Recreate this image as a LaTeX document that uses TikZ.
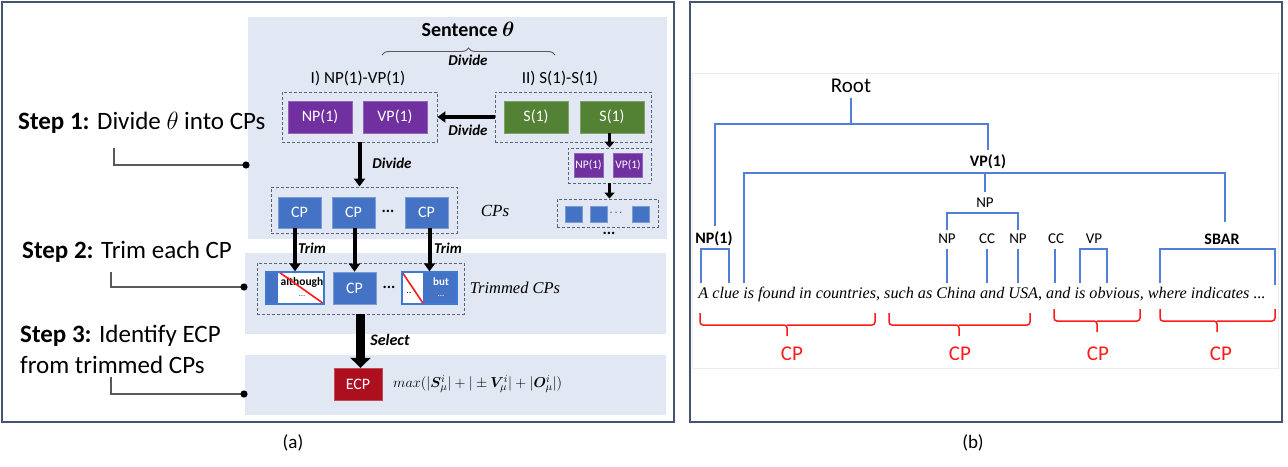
\documentclass[tikz,border=0pt]{standalone}
\usepackage{amsmath,bm}
\usepackage{fontspec}
\setmainfont{Carlito}
\newfontfamily\tnr{Liberation Serif}
\usetikzlibrary{arrows.meta,calc,decorations.pathreplacing}
\definecolor{panelC}{HTML}{E2E8F3}
\definecolor{purpC}{HTML}{7030A0}
\definecolor{greenC}{HTML}{548235}
\definecolor{cpC}{HTML}{4472C4}
\definecolor{ecpC}{HTML}{AD0F1F}
\definecolor{frameC}{HTML}{44546A}
\definecolor{dashC}{HTML}{56657D}
\definecolor{connC}{HTML}{595959}
\definecolor{treeC}{HTML}{4F7FD6}
\definecolor{tbC}{HTML}{3A7BD5}
\definecolor{redC}{HTML}{FF1A1A}
\newcommand{\fsz}[1]{\fontsize{#1}{#1}\selectfont}
\begin{document}
\begin{tikzpicture}[x=1pt,y=-1pt,
  box/.style={minimum width=43pt,minimum height=31pt,inner sep=0pt,text=white,font=\fsz{16}},
  purp/.style={box,fill=purpC,draw=purpC!75!white,line width=0.6pt},
  grn/.style={box,fill=greenC,draw=greenC!75!white,line width=0.6pt},
  cpbox/.style={box,fill=cpC,draw=cpC!70!white,line width=0.6pt},
  sq/.style={fill=cpC,draw=cpC!70!white,line width=0.5pt,minimum width=17pt,minimum height=16pt,inner sep=0pt},
  dbox/.style={draw=dashC,dash pattern=on 3pt off 2pt,line width=0.9pt,inner sep=0pt},
  arr/.style={line width=4pt,-{Triangle[width=11pt,length=8pt]}},
  lbl/.style={font=\fsz{15}\bfseries\itshape,inner sep=0pt},
  conn/.style={draw=connC,line width=1.2pt},
  step/.style={},
  steplbl/.style={anchor=west,font=\fsz{25},inner sep=0pt},
  tree/.style={draw=treeC,line width=1.5pt},
  tlab/.style={font=\fsz{15},inner sep=0pt},
  tlabb/.style={font=\fsz{16}\bfseries,inner sep=0pt},
  rb/.style={draw=redC,line width=1.5pt,rounded corners=3pt},
  cplab/.style={font=\fsz{21},text=redC,inner sep=0pt},
  tb/.style={draw=tbC,line width=1.4pt,minimum height=32pt,inner sep=0pt}
]
\useasboundingbox (0,0) rectangle (1288,466);
% ---------- panel (a)
\fill[panelC] (248,17) rectangle (667,239);
\fill[panelC] (245,253) rectangle (666,334);
\fill[panelC] (245,355) rectangle (666,415);
\draw[frameC,line width=2pt] (2,2) rectangle (674,422);

\node[font=\fsz{20}\bfseries,inner sep=0pt] (sent) at (468,29) {Sentence $\bm{\theta}$};
\draw[connC,line width=0.9pt,decorate,decoration={brace,amplitude=7pt}] (382,55) -- (555,55);
\node[lbl] (dv0) at (468,60) {Divide};
\node[font=\fsz{17},inner sep=0pt] (h1) at (358,78) {I) NP(1)-VP(1)};
\node[font=\fsz{17},inner sep=0pt] (h2) at (560,78) {II) S(1)-S(1)};

\node[dbox,minimum width=155pt,minimum height=50pt] (g1) at (359.5,117) {};
\node[purp,minimum width=64pt,minimum height=32pt] (np1) at (320,117) {NP(1)};
\node[purp,minimum width=64pt,minimum height=32pt] (vp1) at (395,117) {VP(1)};
\node[dbox,minimum width=156pt,minimum height=50pt] (g2) at (573,117) {};
\node[grn,minimum width=64pt,minimum height=32pt] (s1) at (536,117) {S(1)};
\node[grn,minimum width=64pt,minimum height=32pt] (s2) at (612,117) {S(1)};
\draw[arr] (g2.west) -- (g1.east);
\node[lbl] (dv1) at (468,130) {Divide};

\node[dbox,minimum width=83pt,minimum height=35pt] (g3) at (609.5,165.5) {};
\node[purp,minimum width=29pt,minimum height=24pt,font=\fsz{11.5}] (snp) at (588.5,165) {NP(1)};
\node[purp,minimum width=29pt,minimum height=24pt,font=\fsz{11.5}] (svp) at (628,165) {VP(1)};
\node[dbox,minimum width=101pt,minimum height=28pt] (g4) at (607.5,213) {};
\node[sq] (q1) at (573.5,214) {};
\node[sq] (q2) at (599,214) {};
\node[font=\fsz{11},inner sep=0pt] (qd) at (617,213) {\textbf{$\cdots$}};
\node[sq] (q3) at (641,214) {};
\node[font=\fsz{16}\bfseries,inner sep=0pt] (qdd) at (609,233) {...};
\draw[line width=3.5pt,-{Triangle[width=10pt,length=6pt]}] (s2.south -| g3.north) -- (g3.north);
\draw[line width=3.5pt,-{Triangle[width=10pt,length=6pt]}] (g3.south) -- (g3.south |- g4.north);

\node[dbox,minimum width=186pt,minimum height=46pt] (gcp) at (364,210) {};
\node[cpbox] (cp1) at (299.5,212.5) {CP};
\node[cpbox] (cp2) at (353.5,212.5) {CP};
\node[cpbox] (cp3) at (426.5,212.5) {CP};
\node[font=\fsz{16}\bfseries,inner sep=0pt] (cdots) at (388,211) {...};
\node[font=\fsz{17}\tnr\itshape,inner sep=0pt] (cps) at (495,211) {CPs};
\draw[arr] (g1.south) -- (g1.south |- gcp.north);
\node[lbl] (dv2) at (392,163) {Divide};

% trimmed
\node[dbox,minimum width=207pt,minimum height=51pt] (gtr) at (360.5,288.5) {};
\node[tb,fill=white,minimum width=58pt] (t1) at (295,288) {};
\fill[cpC] (t1.north west) rectangle ($(t1.south west)+(13,0)$);
\node[font=\fsz{11.5}\bfseries,inner sep=0pt] (t1a) at (302,282) {although};
\node[font=\fsz{9},text=connC,inner sep=0pt] (t1b) at (302,296) {...};
\draw[redC,line width=1.6pt] ($(t1.north west)+(14,1)$) -- ($(t1.south east)+(-1,-1)$);
\node[tb,minimum width=58pt] (t1f) at (295,288) {};
\node[cpbox,minimum height=32pt] (t2) at (354.5,288) {CP};
\node[font=\fsz{16}\bfseries,inner sep=0pt] (tdots) at (389,287) {...};
\node[tb,fill=cpC,minimum width=55pt] (t3) at (429.5,288) {};
\fill[white] (t3.north west) rectangle ($(t3.south west)+(22,0)$);
\node[font=\fsz{11}\bfseries,text=white,inner sep=0pt] (t3a) at (441,282) {but};
\node[font=\fsz{9},text=white,inner sep=0pt] (t3b) at (441,296) {...};
\node[font=\fsz{9},inner sep=0pt] (t3c) at (409,293) {..};
\draw[redC,line width=1.6pt] ($(t3.north west)+(1,1)$) -- ($(t3.south west)+(22,-1)$);
\node[tb,minimum width=55pt] (t3f) at (429.5,288) {};
\node[font=\fsz{16.5}\tnr\itshape,inner sep=0pt] (tcps) at (515,288) {Trimmed CPs};
\draw[arr] (t1.north |- cp1.south) -- (t1.north);
\draw[arr] (t2.north |- cp2.south) -- (t2.north);
\draw[arr] (t3.north |- cp3.south) -- (t3.north);
\node[lbl] (tr1) at (312,248) {Trim};
\node[lbl] (tr2) at (448,248) {Trim};

\node[box,fill=ecpC,draw=ecpC!75!white,minimum width=48pt,minimum height=32pt] (ecp) at (358,384) {ECP};
\draw[line width=9pt,-{Triangle[width=20pt,length=10pt]}] (gtr.south) -- (gtr.south |- ecp.north);
\node[lbl,font=\fsz{16}\bfseries\itshape] (sel) at (390,340) {Select};
\node[font=\fsz{15.5},inner sep=0pt,anchor=west] (form) at (393,384) {$max(|\bm{S}^i_\mu|+|\pm\bm{V}^i_\mu|+|\bm{O}^i_\mu|)$};

% steps
\node[steplbl] (st1) at (18,123) {\textbf{Step 1:} Divide $\theta$ into CPs};
\node[steplbl] (st2) at (22,252) {\textbf{Step 2:} Trim each CP};
\node[steplbl] (st3) at (20,336) {\textbf{Step 3:} Identify ECP};
\node[steplbl] (st3b) at (20,365) {from trimmed CPs};
\coordinate (c1) at (114,148); \coordinate (d1) at (246,165);
\coordinate (c2) at (111,272); \coordinate (d2) at (244,287);
\coordinate (c3) at (111,377); \coordinate (d3) at (244,394);
\draw[conn] (c1) |- (d1); \fill (d1) circle (3.6);
\draw[conn] (c2) |- (d2); \fill (d2) circle (3.6);
\draw[conn] (c3) |- (d3); \fill (d3) circle (3.6);
\node[font=\fsz{19},inner sep=0pt] (la) at (293,443) {(a)};

% ---------- panel (b)
\draw[gray!15,line width=0.8pt] (692,73) rectangle (1278,368);
\draw[frameC,line width=2pt] (690,2) rectangle (1282,422);
\node[font=\fsz{21},inner sep=0pt] (root) at (851,86) {Root};
\node[tlabb] (bvp1) at (988,162) {VP(1)};
\node[tlab] (bnp) at (985,203) {NP};
\node[tlabb] (bnp1) at (714,239) {NP(1)};
\node[tlab] (bnpa) at (947,239) {NP};
\node[tlab] (bcca) at (987,239) {CC};
\node[tlab] (bnpb) at (1018,239) {NP};
\node[tlab] (bccb) at (1056,239) {CC};
\node[tlab] (bvp) at (1094,239) {VP};
\node[tlabb] (bsbar) at (1222,239) {SBAR};
\node[font=\fsz{16.2}\tnr\itshape,inner sep=0pt] (sentb) at (982,295) {A clue is found in countries, such as China and USA, and is obvious, where indicates ...};

\draw[tree] (851,98) -- (851,124);
\draw[tree] (715,226) |- (988,124) -- (988,150);
\draw[tree] (744,283) |- (1225,173) -- (1225,222);
\draw[tree] (985,173) -- (985,192);
\draw[tree] (947,230) |- (1018,213) -- (1018,230);
\draw[tree] (947,249) -- (947,283);
\draw[tree] (987,249) -- (987,283);
\draw[tree] (1018,249) -- (1018,283);
\draw[tree] (1055,249) -- (1055,283);
\draw[tree] (701,283) |- (729,249) -- (729,283);
\draw[tree] (1080,283) |- (1107,249) -- (1107,283);
\draw[tree] (1160,283) |- (1275,249) -- (1275,285);

\draw[rb] (700,313) |- (787,325) -- (787,336);
\draw[rb] (875,313) |- (787,325);
\draw[rb] (889,313) |- (959,325) -- (959,336);
\draw[rb] (1030,313) |- (959,325);
\draw[rb] (1054,309) |- (1097,321) -- (1097,332);
\draw[rb] (1140,309) |- (1097,321);
\draw[rb] (1160,309) |- (1217,321) -- (1217,332);
\draw[rb] (1275,309) |- (1217,321);
\node[cplab] (cpa) at (792,354) {CP};
\node[cplab] (cpb) at (960,354) {CP};
\node[cplab] (cpc) at (1098,354) {CP};
\node[cplab] (cpd) at (1221,354) {CP};
\node[font=\fsz{19},inner sep=0pt] (lb) at (973,443) {(b)};
\end{tikzpicture}
\end{document}
